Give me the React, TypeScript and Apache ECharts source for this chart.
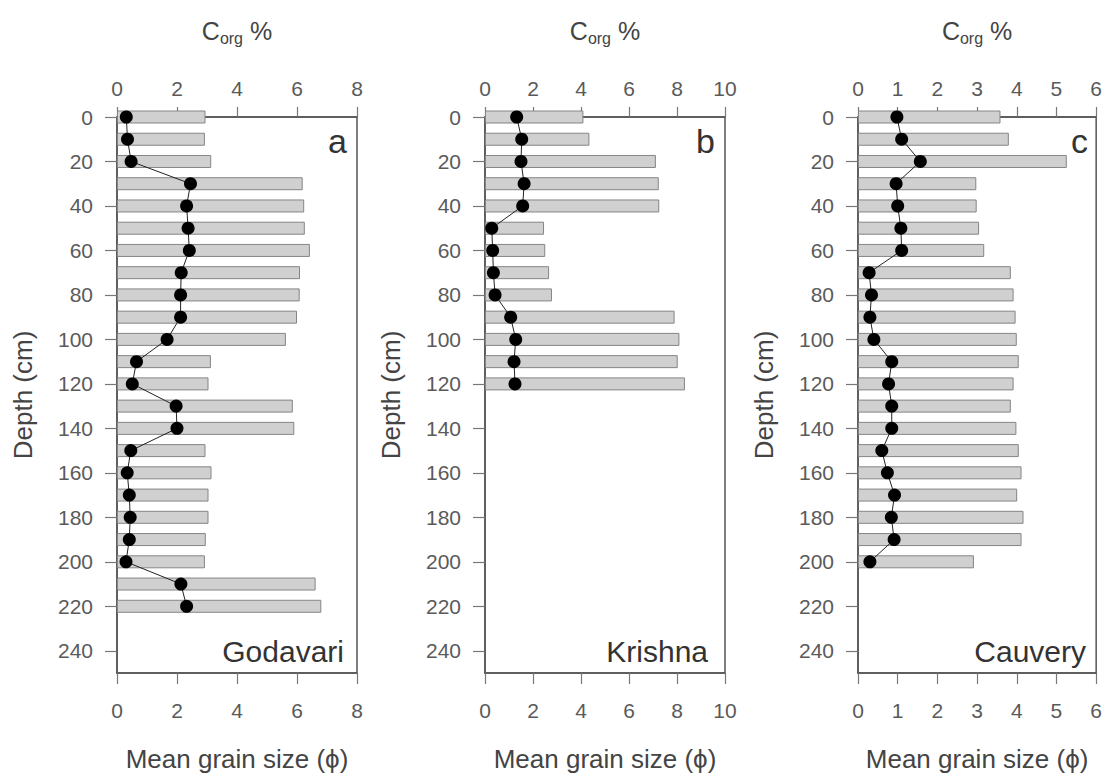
import React, { useEffect, useRef } from 'react';
import * as echarts from 'echarts';

// Depth categories (cm), 10 cm steps, labelled every 20 cm
const DEPTHS = ['0', '10', '20', '30', '40', '50', '60', '70', '80', '90', '100', '110', '120', '130', '140', '150', '160', '170', '180', '190', '200', '210', '220', '230', '240', '250'];

// Godavari (a)
const GODAVARI_GRAIN = [2.95, 2.93, 3.14, 6.19, 6.24, 6.26, 6.43, 6.10, 6.09, 6.00, 5.63, 3.13, 3.05, 5.86, 5.91, 2.95, 3.15, 3.05, 3.05, 2.96, 2.93, 6.62, 6.81];
const GODAVARI_CORG = [0.31, 0.35, 0.47, 2.45, 2.32, 2.37, 2.41, 2.14, 2.12, 2.12, 1.67, 0.65, 0.51, 1.97, 2.00, 0.46, 0.34, 0.41, 0.44, 0.41, 0.30, 2.13, 2.32];

// Krishna (b)
const KRISHNA_GRAIN = [4.10, 4.35, 7.12, 7.24, 7.26, 2.46, 2.51, 2.67, 2.79, 7.90, 8.10, 8.03, 8.33];
const KRISHNA_CORG = [1.32, 1.53, 1.50, 1.63, 1.57, 0.28, 0.32, 0.35, 0.42, 1.07, 1.28, 1.21, 1.25];

// Cauvery (c)
const CAUVERY_GRAIN = [3.59, 3.80, 5.26, 2.98, 2.99, 3.05, 3.18, 3.85, 3.92, 3.97, 4.00, 4.05, 3.92, 3.85, 3.99, 4.05, 4.12, 4.01, 4.17, 4.12, 2.92];
const CAUVERY_CORG = [0.98, 1.10, 1.57, 0.96, 1.00, 1.08, 1.10, 0.28, 0.34, 0.30, 0.40, 0.85, 0.77, 0.85, 0.85, 0.60, 0.74, 0.92, 0.84, 0.91, 0.30];

const PANEL_NAMES = ['Godavari', 'Krishna', 'Cauvery'];
const PANEL_LETTERS = ['a', 'b', 'c'];
const AXIS_MAX = [8, 10, 6];
const AXIS_INTERVAL = [2, 2, 1];

const FONT = '"Liberation Sans", Arial, Helvetica, sans-serif';
const GRID_LEFT = [117, 485, 858];
const GRID_TOP = 117;
const GRID_W = 240;
const GRID_H = 560;
const NAME_OFFSET = [13, 17, 12];

export default function App() {
  const ref = useRef<HTMLDivElement>(null);

  useEffect(() => {
    if (!ref.current) return;
    const chart = echarts.init(ref.current, null, { renderer: 'svg' });
    const grains = [GODAVARI_GRAIN, KRISHNA_GRAIN, CAUVERY_GRAIN];
    const corgs = [GODAVARI_CORG, KRISHNA_CORG, CAUVERY_CORG];

    const grid: any[] = [];
    const xAxis: any[] = [];
    const yAxis: any[] = [];
    const series: any[] = [];
    const graphic: any[] = [];

    const axisLine = { show: true, lineStyle: { color: '#555', width: 1.5 } };
    const tickStyle = { color: '#777', width: 1.2 };
    const labelStyle = { color: '#5a5a5a', fontSize: 21, fontFamily: FONT };

    for (let i = 0; i < 3; i++) {
      grid.push({
        left: GRID_LEFT[i], top: GRID_TOP, width: GRID_W, height: GRID_H,
        show: true, borderColor: '#555', borderWidth: 1.5, backgroundColor: 'transparent',
      });
      // top: Corg %
      xAxis.push({
        type: 'value', gridIndex: i, position: 'top', min: 0, max: AXIS_MAX[i], interval: AXIS_INTERVAL[i],
        axisLine, axisTick: { show: true, length: 10, lineStyle: tickStyle },
        axisLabel: { ...labelStyle, margin: 18 }, splitLine: { show: false },
        name: '{c|C}{s|org}{c| %}', nameLocation: 'middle', nameGap: 71,
        nameTextStyle: {
          rich: {
            c: { fontSize: 25, color: '#444', fontFamily: FONT, lineHeight: 30 },
            s: { fontSize: 16, color: '#444', fontFamily: FONT, lineHeight: 10, verticalAlign: 'bottom' },
          },
        },
      });
      // bottom: Mean grain size
      xAxis.push({
        type: 'value', gridIndex: i, position: 'bottom', min: 0, max: AXIS_MAX[i], interval: AXIS_INTERVAL[i],
        axisLine, axisTick: { show: true, length: 11, lineStyle: tickStyle },
        axisLabel: { ...labelStyle, margin: 27 }, splitLine: { show: false },
        name: 'Mean grain size (\u03d5)', nameLocation: 'middle', nameGap: 73,
        nameTextStyle: { fontSize: 26, color: '#444', fontFamily: FONT },
      });
      yAxis.push({
        type: 'category', gridIndex: i, data: DEPTHS, inverse: true, boundaryGap: false,
        axisLine, axisTick: { show: true, length: 12, interval: 1, lineStyle: tickStyle },
        axisLabel: { ...labelStyle, margin: 24, interval: 1 }, splitLine: { show: false },
        name: 'Depth (cm)', nameLocation: 'middle', nameRotate: 90, nameGap: 81,
        nameTextStyle: { fontSize: 26, color: '#444', fontFamily: FONT },
      });
      series.push({
        type: 'bar', xAxisIndex: 2 * i + 1, yAxisIndex: i, data: grains[i], barWidth: 13,
        itemStyle: { color: '#d0d0d0', borderColor: '#858585', borderWidth: 1 }, z: 2,
      });
      series.push({
        type: 'line', xAxisIndex: 2 * i, yAxisIndex: i, data: corgs[i],
        symbol: 'circle', symbolSize: 13, showAllSymbol: true,
        itemStyle: { color: '#000' }, lineStyle: { color: '#222', width: 1 }, z: 3,
      });
      const right = GRID_LEFT[i] + GRID_W;
      graphic.push({
        type: 'text', x: right - 10, y: GRID_TOP + 24,
        style: { text: PANEL_LETTERS[i], fontSize: 34, fontFamily: FONT, fill: '#333', align: 'right', verticalAlign: 'middle', textAlign: 'right', textVerticalAlign: 'middle' },
        z: 10,
      });
      graphic.push({
        type: 'text', x: right - NAME_OFFSET[i], y: GRID_TOP + GRID_H - 26,
        style: { text: PANEL_NAMES[i], fontSize: 30, fontFamily: FONT, fill: '#333', align: 'right', verticalAlign: 'middle', textAlign: 'right', textVerticalAlign: 'middle' },
        z: 10,
      });
    }

    chart.setOption({
      animation: false,
      backgroundColor: '#fff',
      grid, xAxis, yAxis, series, graphic,
    });
    return () => chart.dispose();
  }, []);

  return <div ref={ref} style={{ position: 'fixed', left: 0, top: 0, width: 1105, height: 777 }} />;
}
